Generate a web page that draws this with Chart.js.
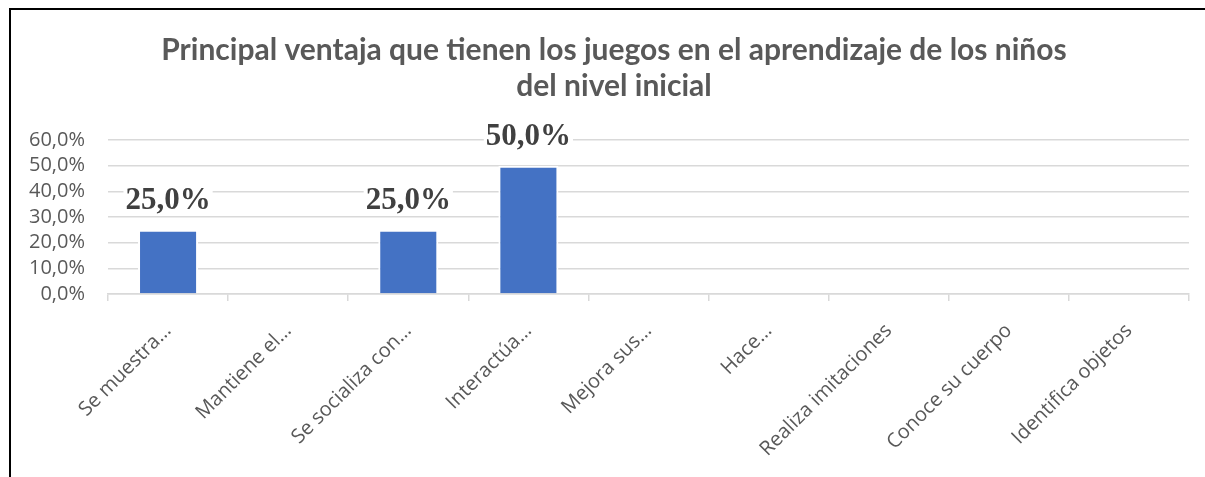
<!DOCTYPE html>
<html>
<head>
<meta charset="utf-8">
<script src="https://cdn.jsdelivr.net/npm/chart.js@4/dist/chart.umd.min.js"></script>
<style>
  html, body { margin: 0; padding: 0; background: #fff; }
  #wrap { position: absolute; left: 0; top: 0; width: 1205px; height: 477px; }
  #frame { position: absolute; left: 9px; top: 8px; right: 0; bottom: 0;
           border-left: 2px solid #000; border-top: 2px solid #000; pointer-events: none; }
</style>
</head>
<body>
<div id="wrap"><canvas id="chart"></canvas></div>
<div id="frame"></div>
<script>
const categories = [
  'Se muestra…',
  'Mantiene el…',
  'Se socializa con…',
  'Interactúa…',
  'Mejora sus…',
  'Hace…',
  'Realiza imitaciones',
  'Conoce su cuerpo',
  'Identifica objetos'
];
const percentages = [25, 0, 25, 50, 0, 0, 0, 0, 0];
const titleLines = [
  'Principal ventaja que tienen los juegos en el aprendizaje de los niños',
  'del nivel inicial'
];

const fmt = v => v.toFixed(1).replace('.', ',') + '%';

// the Excel title is not centred on the plot, so it is drawn here
const chartTitle = {
  id: 'chartTitle',
  afterDraw(chart) {
    const ctx = chart.ctx;
    ctx.save();
    ctx.font = 'bold 30px Lato';
    ctx.fillStyle = '#595959';
    ctx.textAlign = 'center';
    ctx.textBaseline = 'alphabetic';
    titleLines.forEach((line, i) => ctx.fillText(line, 614, 60 + i * 36));
    ctx.restore();
  }
};

// labels above bars, white box behind like in Excel
const barLabels = {
  id: 'barLabels',
  afterDatasetsDraw(chart) {
    const ctx = chart.ctx;
    const meta = chart.getDatasetMeta(0);
    ctx.save();
    ctx.font = 'bold 31px "Liberation Serif"';
    ctx.textAlign = 'center';
    ctx.textBaseline = 'alphabetic';
    meta.data.forEach((bar, i) => {
      const v = percentages[i];
      if (!v) return;
      const txt = fmt(v);
      const w = ctx.measureText(txt).width;
      const y = bar.y - 21;
      ctx.fillStyle = '#fff';
      ctx.fillRect(bar.x - w / 2 - 2, y - 24, w + 4, 30);
      ctx.fillStyle = '#404040';
      ctx.fillText(txt, bar.x, y);
    });
    ctx.restore();
  }
};

const data = {
  labels: categories,
  datasets: [{
    data: percentages,
    backgroundColor: '#4472C4',
    borderColor: '#ffffff',
    borderWidth: 2,
    borderSkipped: 'start',
    categoryPercentage: 1,
    barPercentage: 0.5
  }]
};

const config = {
  type: 'bar',
  data: data,
  plugins: [barLabels, chartTitle],
  options: {
    responsive: true,
    maintainAspectRatio: false,
    animation: false,
    layout: { padding: { left: 10, right: 16, top: 140, bottom: 0 } },
    plugins: {
      legend: { display: false },
      tooltip: { enabled: false },
      title: { display: false }
    },
    scales: {
      x: {
        grid: {
          offset: true,
          drawOnChartArea: false,
          tickLength: 7,
          color: '#d9d9d9',
          lineWidth: 1.5
        },
        border: { color: '#d9d9d9', width: 1.5 },
        ticks: {
          autoSkip: false,
          minRotation: 45,
          maxRotation: 45,
          padding: 18,
          color: '#595959',
          font: { family: 'Open Sans', size: 20 }
        },
        afterFit(s) {
          s.height = 183;
          s.paddingLeft = 0;
          s.paddingRight = 0;
        }
      },
      y: {
        min: 0,
        max: 60,
        grid: { color: '#d9d9d9', lineWidth: 1.5, drawTicks: false },
        border: { display: false },
        ticks: {
          stepSize: 10,
          autoSkip: false,
          padding: 23,
          color: '#595959',
          font: { family: 'Open Sans', size: 20 },
          callback: v => fmt(v)
        },
        afterFit(s) {
          s.width = 98;
          s.paddingTop = 0;
          s.paddingBottom = 0;
        }
      }
    }
  }
};

const myChart = new Chart(document.getElementById('chart'), config);
</script>
</body>
</html>
